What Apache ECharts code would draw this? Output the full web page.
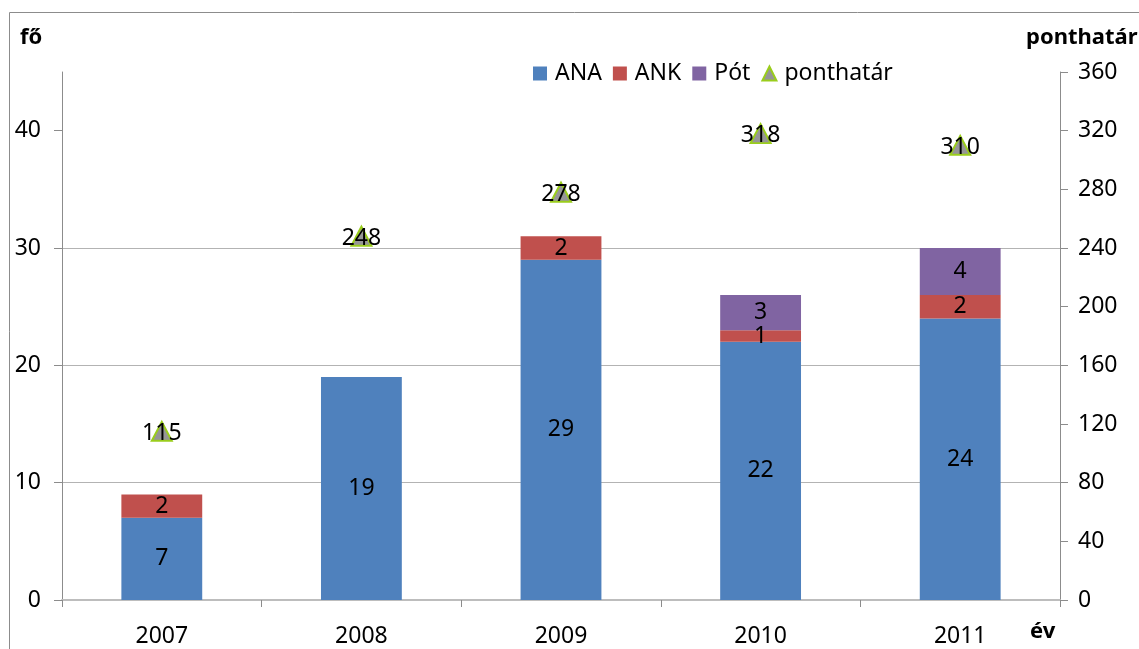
<!DOCTYPE html>
<html>
<head>
<meta charset="utf-8">
<script src="https://cdn.jsdelivr.net/npm/echarts@6/dist/echarts.min.js"></script>
<style>
  html, body { margin: 0; padding: 0; background: #fff; }
  #chart { width: 1139px; height: 649px; }
</style>
</head>
<body>
<div id="chart"></div>
<script>
const years = ['2007', '2008', '2009', '2010', '2011'];
const ana = [7, 19, 29, 22, 24];
const ank = [2, 0, 2, 1, 2];
const pot = [0, 0, 0, 3, 4];
const ponthatar = [115, 248, 278, 318, 310];
const leftTicks = [0, 10, 20, 30, 40];

const font = 'Noto Sans';
const chart = echarts.init(document.getElementById('chart'));

// bar label: hide zero segments
const barLabel = {
  show: true,
  position: 'inside',
  color: '#000',
  fontSize: 23,
  fontFamily: font,
  formatter: p => (p.value ? p.value : '')
};

const option = {
  animation: false,
  textStyle: { fontFamily: font },
  graphic: [
    { type: 'rect', shape: { x: 9.5, y: 12.5, width: 1200, height: 700 },
      style: { fill: 'none', stroke: '#8c8c8c', lineWidth: 1 }, silent: true },
    { type: 'text', left: 20, top: 27,
      style: { text: 'fő', font: 'bold 22px "Noto Sans"', fill: '#000' } },
    { type: 'text', left: 1026, top: 27,
      style: { text: 'ponthatár', font: 'bold 22px "Noto Sans"', fill: '#000' } },
    { type: 'text', left: 1030, top: 621,
      style: { text: 'év', font: 'bold 22px "Noto Sans"', fill: '#000' } }
  ],
  legend: {
    left: 528,
    top: 57,
    itemWidth: 14,
    itemHeight: 14,
    itemGap: 11,
    textStyle: { fontSize: 23, fontFamily: font, color: '#000', padding: [0, 0, 0, 3] },
    data: [
      { name: 'ANA', icon: 'rect' },
      { name: 'ANK', icon: 'rect' },
      { name: 'Pót', icon: 'rect' },
      { name: 'ponthatár', icon: 'triangle' }
    ]
  },
  grid: { left: 62, right: 79, top: 72, bottom: 49 },
  xAxis: {
    type: 'category',
    data: years,
    axisLine: { lineStyle: { color: '#bdbdbd', width: 2 } },
    axisTick: { show: true, length: 7, lineStyle: { color: '#8c8c8c' } },
    axisLabel: { color: '#000', fontSize: 23, fontFamily: font, margin: 25 }
  },
  yAxis: [
    {
      type: 'value',
      min: 0,
      max: 45,
      interval: 10,
      position: 'left',
      axisLine: { show: true, lineStyle: { color: '#8c8c8c' } },
      axisTick: { show: true, length: 8, customValues: leftTicks, lineStyle: { color: '#8c8c8c' } },
      axisLabel: { color: '#000', fontSize: 23, fontFamily: font, margin: 21, customValues: leftTicks },
      splitLine: { show: true, showMaxLine: false, showMinLine: false, lineStyle: { color: '#b3b3b3' } }
    },
    {
      type: 'value',
      min: 0,
      max: 360,
      interval: 40,
      position: 'right',
      axisLine: { show: true, lineStyle: { color: '#8c8c8c' } },
      axisTick: { show: true, length: 8, lineStyle: { color: '#8c8c8c' } },
      axisLabel: { color: '#000', fontSize: 23, fontFamily: font, margin: 18 },
      splitLine: { show: false }
    }
  ],
  series: [
    { name: 'ANA', type: 'bar', stack: 'fo', barWidth: '40.5%', data: ana,
      itemStyle: { color: '#4f81bd' }, label: barLabel },
    { name: 'ANK', type: 'bar', stack: 'fo', data: ank,
      itemStyle: { color: '#c0504d' }, label: barLabel },
    { name: 'Pót', type: 'bar', stack: 'fo', data: pot,
      itemStyle: { color: '#8064a2' }, label: barLabel },
    {
      name: 'ponthatár',
      type: 'line',
      yAxisIndex: 1,
      data: ponthatar,
      lineStyle: { width: 0, opacity: 0 },
      symbol: 'triangle',
      symbolSize: [20, 19],
      itemStyle: { color: '#969696', borderColor: '#9acd1c', borderWidth: 2 },
      label: { show: true, position: 'inside', offset: [0, 2], color: '#000', fontSize: 23, fontFamily: font }
    }
  ]
};

chart.setOption(option);
</script>
</body>
</html>
